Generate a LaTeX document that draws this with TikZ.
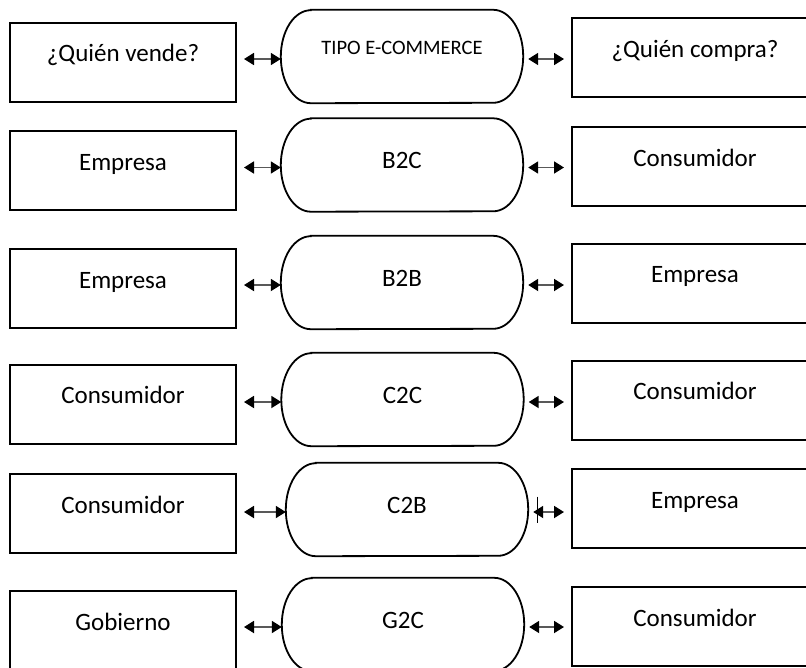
\documentclass[tikz,border=0pt]{standalone}
\usepackage{fontspec}
\setmainfont{Carlito}
\usetikzlibrary{arrows.meta}
\tikzset{
  whobox/.style={draw,line width=2pt,minimum width=226pt,minimum height=79pt,inner sep=0pt,
    font=\fontsize{25}{30}\selectfont,text height=16pt,text depth=17pt},
  buybox/.style={whobox,minimum width=246pt},
  typebox/.style={minimum width=242pt,minimum height=93pt,inner sep=0pt,
    font=\fontsize{25}{30}\selectfont,text height=16pt,text depth=9pt},
  link/.style={{Triangle[length=10pt,width=12pt,color=black]}-{Triangle[length=10pt,width=12pt,color=black]},
    draw=black!65,line width=1.8pt}
}
\begin{document}
\begin{tikzpicture}[x=1pt,y=1pt]
\clip (0,0) rectangle (806,-667);
\fill[white] (0,0) rectangle (806,-667);
% quien vende
\node[whobox] (l1) at (123,-62) {¿Quién vende?};
\node[whobox] (l2) at (123,-170.5) {Empresa};
\node[whobox] (l3) at (123,-288.5) {Empresa};
\node[whobox] (l4) at (123,-404) {Consumidor};
\node[whobox] (l5) at (123,-513.5) {Consumidor};
\node[whobox] (l6) at (123,-630.5) {Gobierno};
% tipo
\node[typebox,font=\fontsize{20.5}{24}\selectfont,text height=13pt,text depth=17pt] (c1) at (402,-56.5) {TIPO E-COMMERCE};
\node[typebox] (c2) at (402,-165) {B2C};
\node[typebox] (c3) at (402,-282.5) {B2B};
\node[typebox] (c4) at (402.5,-399.5) {C2C};
\node[typebox] (c5) at (407,-509.5) {C2B};
\node[typebox] (c6) at (403,-624.5) {G2C};
\foreach \c in {c1,c2,c3,c4,c5,c6}
  \draw[line width=1.8pt] ([xshift=30pt]\c.north west) -- ([xshift=-30pt]\c.north east)
    arc[start angle=90,end angle=-90,x radius=30pt,y radius=46.5pt]
    -- ([xshift=30pt]\c.south west)
    arc[start angle=270,end angle=90,x radius=30pt,y radius=46.5pt] -- cycle;
% quien compra
\node[buybox] (r1) at (695,-57.5) {¿Quién compra?};
\node[buybox] (r2) at (695,-166.5) {Consumidor};
\node[buybox] (r3) at (695,-283) {Empresa};
\node[buybox] (r4) at (695,-400) {Consumidor};
\node[buybox] (r5) at (695,-508.5) {Empresa};
\node[buybox] (r6) at (695,-626.5) {Consumidor};
% flechas
\foreach \i in {1,...,6}{
  \draw[link,shorten >=7pt] ([yshift=-2.5pt]c\i.west) -- ([yshift=-2.5pt]c\i.west -| l\i.east);
  \draw[link,shorten <=5pt,shorten >=7pt] ([yshift=-2.5pt]c\i.east) -- ([yshift=-2.5pt]c\i.east -| r\i.west);
}
\draw[line width=0.8pt] ([xshift=9pt,yshift=13pt]c5.east) -- ++(0,-26);
\end{tikzpicture}
\end{document}
